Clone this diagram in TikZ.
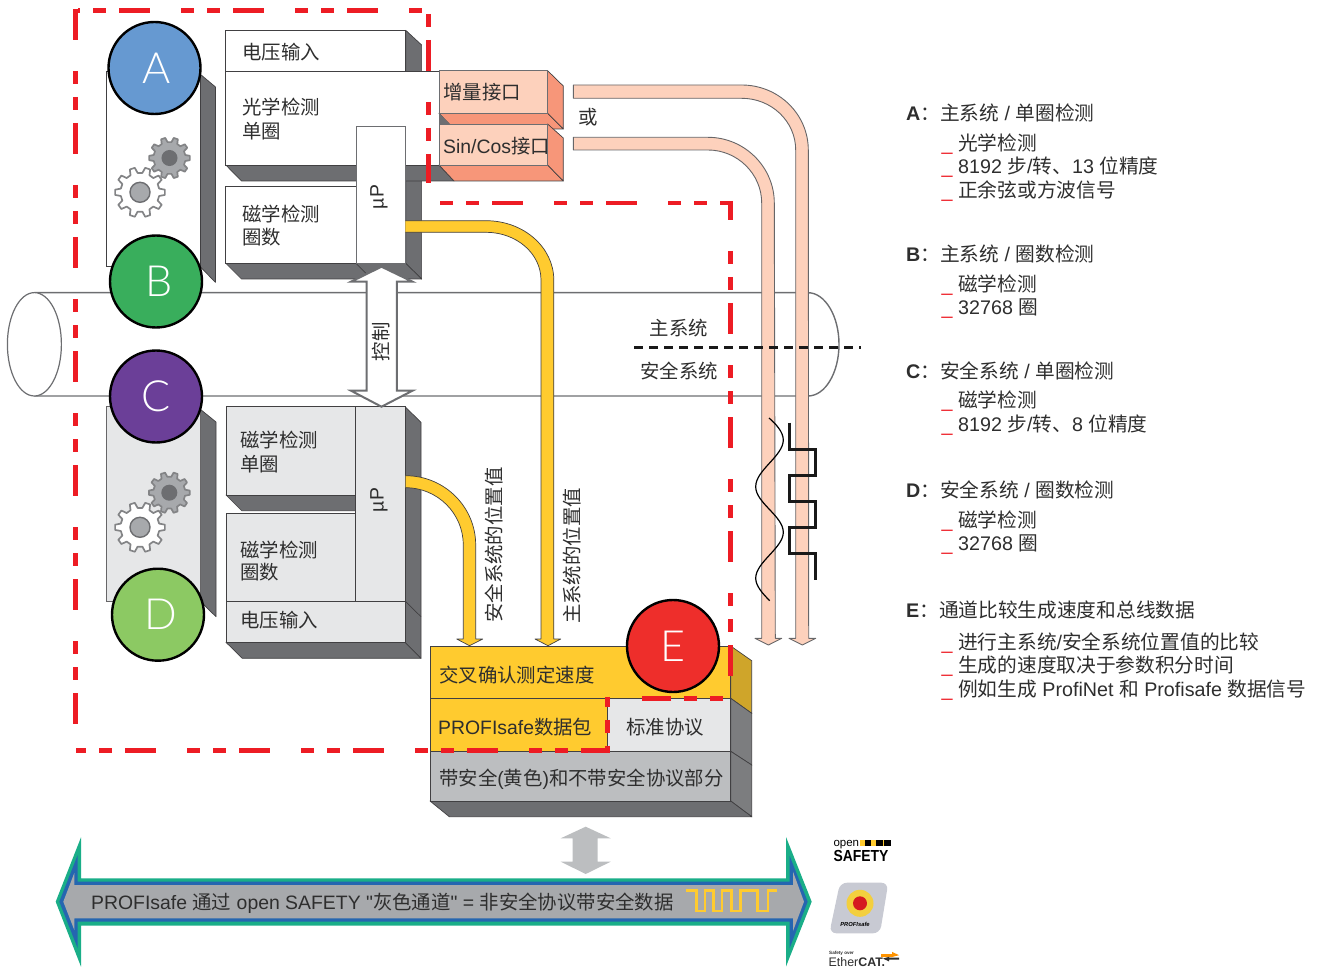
\documentclass[tikz,border=0pt]{standalone}
\usepackage{fontspec}
\usepackage{graphicx}
\setmainfont{Liberation Sans}
\newfontfamily\cjk{Noto Sans CJK SC}
\newfontfamily\rawf{Liberation Sans}
\newfontfamily\thinf{Lato Light}
\newcommand\C[1]{{\cjk #1}}
\newcommand\Q{{\rawf"}}
\definecolor{txt}{HTML}{2E2E2E}
\definecolor{sh}{HTML}{6D6E71}
\definecolor{ln}{HTML}{414042}
\definecolor{lg}{HTML}{E6E7E8}
\definecolor{yl}{HTML}{FFCB2F}
\definecolor{yd}{HTML}{CFA52A}
\definecolor{sal}{HTML}{FDD1BC}
\definecolor{sald}{HTML}{F79679}
\definecolor{rd}{HTML}{ED1C24}
\definecolor{mg}{HTML}{BCBEC0}
\definecolor{gr}{HTML}{1AAE88}
\definecolor{bl}{HTML}{2566B0}
\definecolor{ag}{HTML}{A7A9AC}
\definecolor{dA}{HTML}{6699D1}
\definecolor{dB}{HTML}{39AE5C}
\definecolor{dC}{HTML}{6B3F98}
\definecolor{dD}{HTML}{8CC963}
\definecolor{dE}{HTML}{EE2E2B}
\definecolor{pfg}{HTML}{C8CAD3}
\definecolor{pfy}{HTML}{F3CF3E}
\newcommand\gear[8]{% x y Ro Ri fill stroke innerfill innerr
  \draw[fill=#5,draw=#6,line width=1.7pt,line join=round]
    ({#1+#4*cos(-11)},{#2+#4*sin(-11)})
    \foreach \i in {0,...,9} {
      -- ({#1+#4*cos(\i*36-11)},{#2+#4*sin(\i*36-11)})
      -- ({#1+#3*cos(\i*36-6)},{#2+#3*sin(\i*36-6)})
      -- ({#1+#3*cos(\i*36+6)},{#2+#3*sin(\i*36+6)})
      -- ({#1+#4*cos(\i*36+11)},{#2+#4*sin(\i*36+11)})
    } -- cycle;
  \draw[fill=#7,draw=sh,line width=1.4pt] (#1,#2) circle[radius=#8pt];
}
\tikzset{
  fs/.style={font=\fontsize{19.4}{23}\selectfont,text=txt,inner sep=0pt},
  fl/.style={font=\fontsize{19.7}{23}\selectfont,text=txt,inner sep=0pt},
  lab/.style={fs,anchor=base west},
  leg/.style={fl,anchor=base west},
  clab/.style={fs,anchor=base},
  rlab/.style={fs,rotate=90,anchor=center},
  shade3/.style={fill=sh,draw=ln,line width=.7pt,line join=round},
  boxw/.style={fill=white,draw=ln,line width=.7pt},
  boxg/.style={fill=lg,draw=ln,line width=.7pt},
  sface/.style={fill=sal,draw=sh,line width=.9pt},
  sshade/.style={fill=sald,draw=ln,line width=.7pt,line join=round},
  band/.style={fill=sal,draw=ln!80,line width=.9pt,line join=round},
  yband/.style={fill=yl,draw=ln,line width=.7pt,line join=round},
  disc/.style={circle,draw=black,line width=2.4pt,minimum size=92pt,inner sep=0pt,text=white,font=\fontsize{43}{44}\thinf},
  reddash/.style={draw=rd,line width=4.6pt,dash pattern=on 31pt off 31pt on 13pt off 13pt on 13pt off 13pt},
  underbar/.style={fl,anchor=base west,text=rd}
}
\newcommand\li[3]{% name y-center text
  \node[underbar] (u#1) at (941.5,#2+7.4) {\_};
  \node[leg] (l#1) at (958,#2+7.4) {#3};
}
\begin{document}
\begin{tikzpicture}[x=1pt,y=-1pt]
\useasboundingbox (0,0) rectangle (1317,968);
% tube
\draw[draw=sh,line width=1.4pt] (34.4,292.7) -- (808,292.7) .. controls (825,292.7) and (839,316) .. (839,344.3) .. controls (839,373) and (825,396) .. (808,396) -- (34.4,396);
\draw[draw=sh,line width=1.2pt,fill=white] (34.4,344.3) ellipse[x radius=27pt,y radius=51.7pt];
% upper encoder body
\draw[shade3] (200,74) -- (215.5,87) -- (215.5,282.3) -- (200,266.7) -- cycle;
\draw[fill=white,draw=ln,line width=.7pt] (106.4,71.7) rectangle (200,266.7);
\gear{169.5}{158}{20.5}{16}{ag}{sh!85}{sh}{7.3}
\gear{140}{192.3}{25}{19.5}{white}{sh!85}{ag}{10}
% upper boxes
\draw[shade3] (405.7,30.3) -- (421.6,45) -- (421.6,279) -- (405.7,263.3) -- cycle;
\draw[boxw] (225.8,30.3) rectangle (405.7,71);
\draw[shade3] (225.8,165) -- (241.5,181) -- (454,181) -- (439,165) -- cycle;
\draw[boxw] (225.8,71) rectangle (439,165);
\draw[shade3] (225.8,263.3) -- (241.5,279) -- (421.6,279) -- (405.7,263.3) -- cycle;
\draw[boxw] (225.8,186) rectangle (356,263.3);
\draw[shade3] (356,263.3) -- (371.5,279);
\draw[fill=white,draw=sh,line width=.9pt] (356,126.7) rectangle (405.3,263.3);
% salmon interface boxes
\draw[sshade] (439,113.3) -- (454,129) -- (563.3,129) -- (547.6,113.3) -- cycle;
\draw[sshade] (547.6,70.7) -- (563.3,86) -- (563.3,129) -- (547.6,113.3) -- cycle;
\fill[sh] (439,113.3) -- (450,124) -- (439,124) -- cycle;
\draw[sface] (439,70.7) rectangle (547.6,113.3);
\draw[sshade] (439,165) -- (454,181) -- (563.3,181) -- (547.6,165) -- cycle;
\draw[sshade] (547.6,124) -- (563.3,138) -- (563.3,181) -- (547.6,165) -- cycle;
\draw[sface] (439,124) rectangle (547.6,165);
% lower encoder body
\draw[shade3] (200,409) -- (216,422) -- (216,616.7) -- (200,601) -- cycle;
\draw[fill=lg,draw=ln!80,line width=.7pt] (106,406) rectangle (200,601.7);
\gear{169.3}{492.7}{20.5}{16}{ag}{sh!85}{sh}{7.3}
\gear{140}{527.3}{25}{19.5}{white}{sh!85}{ag}{10}
% lower boxes
\draw[shade3] (405,406.7) -- (421,422.3) -- (421,658.3) -- (405,642.3) -- cycle;
\draw[ln,line width=.7pt] (405,601) -- (421,616.7);
\draw[shade3] (226,495) -- (241.7,510.7) -- (355.7,510.7) -- (355.7,495) -- cycle;
\draw[shade3] (226,642.3) -- (242.3,658.3) -- (421,658.3) -- (405,642.3) -- cycle;
\draw[boxg] (226,406.7) rectangle (355.7,495);
\draw[boxg] (226,513.3) rectangle (355.7,601);
\draw[boxg] (355.7,406.7) rectangle (405,601);
\draw[boxg] (226,601) rectangle (405,642.3);
% yellow bands
\draw[yband] (405.3,220.7) -- (486,220.7) .. controls (523.6,220.7) and (553.8,247.3) .. (553.8,280) -- (553.8,639) -- (560.7,639) -- (548,645.7) -- (535,639) -- (541,639) -- (541,280) .. controls (541,253.5) and (516.4,232.3) .. (486,232.3) -- (405.3,232.3);
\draw[yband] (405.7,475.7) .. controls (444.4,475.7) and (475.7,506.8) .. (475.7,545) -- (475.7,639) -- (482.7,639) -- (469.5,645.7) -- (456.7,639) -- (463.3,639) -- (463.3,545) .. controls (463.3,513.5) and (437.5,487.7) .. (405.7,487.7);
% salmon signal bands
\draw[band] (573.3,85) -- (741.7,85) .. controls (778.5,85) and (808.3,114.1) .. (808.3,150) -- (808.7,638.3) -- (815.7,638.3) -- (802.3,645) -- (789,638.3) -- (795.7,638.3) -- (795.7,150) .. controls (795.7,121.4) and (771.5,98.3) .. (741.7,98.3) -- (573.3,98.3) -- cycle;
\draw[band] (573.3,137.3) -- (708,137.3) .. controls (744.5,137.3) and (774.3,167) .. (774.3,203) -- (775.3,638.3) -- (781.7,638.3) -- (768.5,645) -- (755,638.3) -- (761.7,638.3) -- (761.7,203) .. controls (761.7,174) and (737.5,150) .. (708,150) -- (573.3,150) -- cycle;
% divider
\draw[black!90,line width=2.6pt,dash pattern=on 9.3pt off 5.7pt] (634,347.7) -- (860.7,347.7);
% signal waves
\draw[black,line width=1.2pt] (769,418) .. controls (776,424) and (783.3,432) .. (783.3,440) .. controls (783.3,456) and (755.7,470) .. (755.7,486.7) .. controls (755.7,503) and (783.3,516) .. (783.3,532.3) .. controls (783.3,548) and (755.7,562) .. (755.7,578.3) .. controls (755.7,586) and (763,594) .. (769.7,600.7);
\draw[black!90,line width=3pt,line join=miter] (789.3,422.7) -- (789.3,449.7) -- (815,449.7) -- (815,475.7) -- (789.3,475.7) -- (789.3,501) -- (815,501) -- (815,527) -- (789.3,527) -- (789.3,553.3) -- (815,553.3) -- (815,580);
% control arrow
\draw[fill=white,draw=sh,line width=2pt,line join=miter] (381.5,266.7) -- (412.5,281.7) -- (396.9,281.7) -- (396.9,390.7) -- (412.5,390.7) -- (381.5,406.7) -- (351,390.7) -- (366.6,390.7) -- (366.6,281.7) -- (351,281.7) -- cycle;
% result block
\draw[fill=yd,draw=ln,line width=.7pt] (730.7,646) -- (751.7,660.7) -- (751.7,713.3) -- (730.7,698.3) -- cycle;
\draw[fill=sh!90,draw=ln,line width=.7pt] (730.7,698.3) -- (751.7,713.3) -- (751.7,765) -- (730.7,751.3) -- cycle;
\draw[fill=sh!90,draw=ln,line width=.7pt] (730.7,751.3) -- (751.7,765) -- (751.7,816.7) -- (730.7,801) -- cycle;
\draw[shade3] (430,801) -- (449.3,816.7) -- (751.7,816.7) -- (730.7,801) -- cycle;
\draw[fill=yl,draw=ln,line width=.7pt] (430,646) rectangle (730.7,698.3);
\draw[fill=yl,draw=ln,line width=.7pt] (430,698.3) rectangle (607,751.3);
\draw[fill=lg,draw=ln,line width=.7pt] (607,698.3) rectangle (730.7,751.3);
\draw[fill=mg,draw=ln,line width=.7pt] (430,751.3) rectangle (730.7,801);
% vertical grey arrow
\fill[mg] (585.7,826.7) -- (610.7,838.3) -- (597.7,838.3) -- (597.7,861.7) -- (610.7,861.7) -- (585.7,874) -- (560.7,861.7) -- (572.7,861.7) -- (572.7,838.3) -- (560.7,838.3) -- cycle;
% bus arrow
\fill[gr] (55.7,901.7) -- (81,837.3) -- (81,878.3) -- (786,878.3) -- (786,837) -- (811.7,901.7) -- (786,966.5) -- (786,925.7) -- (81,925.7) -- (81,966.7) -- cycle;
\fill[bl] (59.3,901.7) -- (77.7,855) -- (77.7,881.7) -- (789.7,881.7) -- (789.7,856) -- (807.7,901.7) -- (789.7,948) -- (789.7,921.7) -- (77.7,921.7) -- (77.7,948.3) -- cycle;
\fill[ag] (63.3,901.7) -- (74.3,873) -- (74.3,885) -- (793,885) -- (793,871.7) -- (804,901.7) -- (793,931) -- (793,918.3) -- (74.3,918.3) -- (74.3,930) -- cycle;
\draw[yl,line width=2.8pt,line join=miter] (686,890.7) -- (696.7,890.7) -- (696.7,911) -- (705,911) -- (705,890.7) -- (713.3,890.7) -- (713.3,911) -- (722,911) -- (722,890.7) -- (731.7,890.7) -- (731.7,911) -- (740.7,911) -- (740.7,890.7) -- (757.3,890.7) -- (757.3,911) -- (768,911) -- (768,890.7) -- (776.7,890.7);
% discs
\node[disc,fill=dA] (cA) at (154.5,68) {\hspace*{5pt}A};
\node[disc,fill=dB] (cB) at (156,281.5) {\hspace*{7pt}B};
\node[disc,fill=dC] (cC) at (156,396.5) {\raisebox{-2pt}{C}};
\node[disc,fill=dD] (cD) at (158,614.7) {\raisebox{-2.5pt}{\hspace*{5pt}D}};
\node[disc,fill=dE] (cE) at (673,646) {E};
% labels left
\node[lab] (t1) at (242.3,59.7) {\C{电压输入}};
\node[lab] (t2) at (242.3,114.4) {\C{光学检测}};
\node[lab] (t3) at (242.3,139) {\C{单圈}};
\node[lab] (t4) at (242.3,221.4) {\C{磁学检测}};
\node[lab] (t5) at (242.3,244.4) {\C{圈数}};
\node[rlab] (up1) at (379,197) {µP};
\node[rlab] (up2) at (379,500) {µP};
\node[rlab] (ctl) at (381,341.7) {\C{控制}};
\node[lab] (s1) at (443,99.7) {\C{增量接口}};
\node[lab] (s2) at (443,154) {Sin/Cos\C{接口}};
\node[lab] (orl) at (578,124.5) {\C{或}};
\node[lab] (t6) at (240,447.4) {\C{磁学检测}};
\node[lab] (t7) at (240,471) {\C{单圈}};
\node[lab] (t8) at (240,557.4) {\C{磁学检测}};
\node[lab] (t9) at (240,579) {\C{圈数}};
\node[lab] (t10) at (240,627.4) {\C{电压输入}};
\node[rlab] (v1) at (494,545) {\C{安全系统的位置值}};
\node[rlab] (v2) at (572,556) {\C{主系统的位置值}};
\node[clab] (m1) at (679,335.4) {\C{主系统}};
\node[clab] (m2) at (679,378.4) {\C{安全系统}};
\node[lab] (b1) at (439,682.4) {\C{交叉确认测定速度}};
\node[lab] (b2) at (438,734) {PROFIsafe\C{数据包}};
\node[clab] (b3) at (665,734.4) {\C{标准协议}};
\node[lab] (b4) at (439,785.4) {\C{带安全}(\C{黄色})\C{和不带安全协议部分}};
\node[lab] (bus) at (91,909.4) {PROFIsafe \C{通过} open SAFETY \Q\C{灰色通道}\Q{} = \C{非安全协议带安全数据}};
% red dashed outline
\begin{scope}[line cap=butt]
\draw[reddash,dash phase=72.6pt] (78,10.7) -- (428.6,10.7);
\draw[reddash] (75.5,9) -- (75.5,751);
\draw[reddash,dash phase=85pt] (428.6,11) -- (428.6,183);
\draw[reddash,dash phase=62pt] (440,203) -- (730.7,203);
\draw[reddash,dash phase=12pt] (730.3,201) -- (730.3,676);
\draw[reddash,dash phase=62pt] (723,698.3) -- (641.7,698.3);
\draw[reddash,dash phase=65pt] (607.3,696.7) -- (607.3,753);
\draw[reddash,dash phase=65pt] (76,750.7) -- (610,750.7);
\end{scope}
% side legend
\node[leg] (ha) at (906,120.4) {\textbf{A}\C{：主系统} / \C{单圈检测}};
\li{a1}{143}{\C{光学检测}}
\li{a2}{166}{8192 \C{步}/\C{转、}13 \C{位精度}}
\li{a3}{190}{\C{正余弦或方波信号}}
\node[leg] (hb) at (906,261.4) {\textbf{B}\C{：主系统} / \C{圈数检测}};
\li{b1}{284}{\C{磁学检测}}
\li{b2}{307}{32768 \C{圈}}
\node[leg] (hc) at (906,378.4) {\textbf{C}\C{：安全系统} / \C{单圈检测}};
\li{c1}{400}{\C{磁学检测}}
\li{c2}{424}{8192 \C{步}/\C{转、}8 \C{位精度}}
\node[leg] (hd) at (906,497.4) {\textbf{D}\C{：安全系统} / \C{圈数检测}};
\li{d1}{520}{\C{磁学检测}}
\li{d2}{543}{32768 \C{圈}}
\node[leg] (he) at (906,617.4) {\textbf{E}\C{：通道比较生成速度和总线数据}};
\li{e1}{642}{\C{进行主系统}/\C{安全系统位置值的比较}}
\li{e2}{665}{\C{生成的速度取决于参数积分时间}}
\li{e3}{689}{\C{例如生成} ProfiNet \C{和} Profisafe \C{数据信号}}
% logos
\node[anchor=base west,inner sep=0pt,text=black,font=\fontsize{11.5}{12}\selectfont] (lo1) at (833.3,846.5) {open};
\fill[yl] (860,840) rectangle (891,845.7);
\fill[black] (864.5,840) rectangle (871,845.7);
\fill[black] (876,840) rectangle (883,845.7);
\fill[black] (884,840) rectangle (891,845.7);
\node[anchor=base west,inner sep=0pt,text=black,font=\fontsize{16}{17}\bfseries] (lo2) at (833.3,861.7) {\scalebox{.87}[1]{SAFETY}};
\fill[pfg,rounded corners=7pt] (840,882.7) -- (888.3,882.7) -- (880,933.3) -- (829.3,933.3) -- cycle;
\fill[pfy] (860,903.3) circle[radius=13.5pt];
\fill[rd!90!black] (860,903.3) circle[radius=7pt];
\node[anchor=base,inner sep=0pt,text=black,font=\fontsize{5.8}{6}\bfseries\itshape] (lo3) at (855,926) {PROFIsafe};
\node[anchor=base west,inner sep=0pt,text=txt,font=\fontsize{4.6}{5}\bfseries] (lo4) at (829,954.5) {Safety over};
\node[anchor=base west,inner sep=0pt,text=txt,font=\fontsize{12.4}{13}\selectfont] (lo5) at (828.5,966) {Ether\textbf{CAT.}};
\fill[orange!85!yellow] (881,954.2) -- (892,954.2) -- (892,951.8) -- (899,955.2) -- (892,957) -- (881,957) -- cycle;
\fill[txt] (899,957.6) -- (889,957.6) -- (889,956.8) -- (883,958.6) -- (889,961.4) -- (889,959.6) -- (899,959.6) -- cycle;
\end{tikzpicture}
\end{document}
